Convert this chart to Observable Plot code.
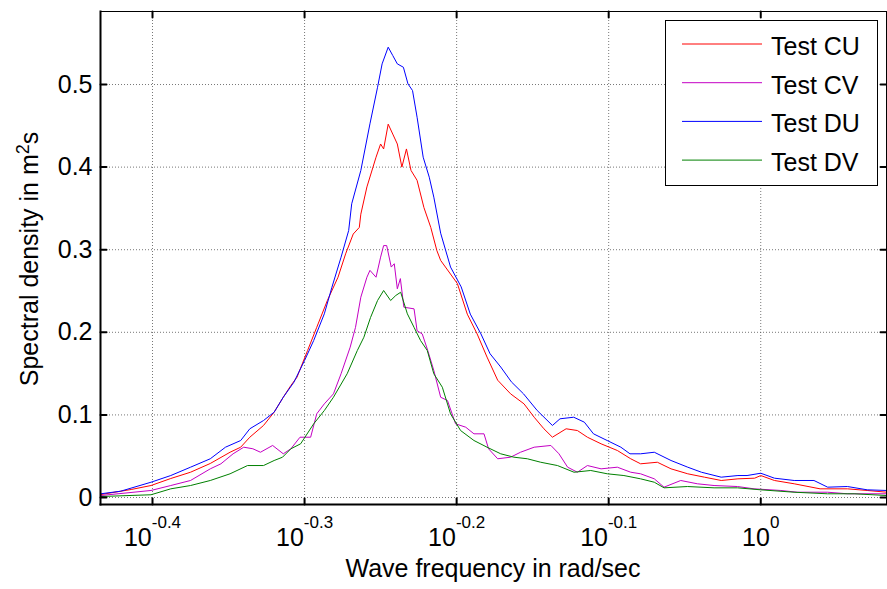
<!DOCTYPE html>
<html><head><meta charset="utf-8">
<script src="https://cdn.jsdelivr.net/npm/d3@7"></script>
<script src="https://cdn.jsdelivr.net/npm/@observablehq/plot@0.6"></script>
<style>body{margin:0;background:#fff} #chart{position:relative;width:887px;height:589px}</style>
</head><body><div id="chart"></div>
<script>
// log10 of wave frequency (rad/sec) and spectral density (m^2 s) for each test
const cuExp = [-0.434,-0.414,-0.401,-0.388,-0.375,-0.362,-0.349,-0.342,-0.336,-0.327,-0.320,-0.314,-0.309,-0.305,-0.298,-0.292,-0.285,-0.278,-0.273,-0.268,-0.264,-0.263,-0.259,-0.253,-0.250,-0.248,-0.245,-0.242,-0.239,-0.236,-0.233,-0.230,-0.226,-0.2215,-0.217,-0.213,-0.2105,-0.1995,-0.193,-0.1865,-0.180,-0.173,-0.1645,-0.1557,-0.149,-0.1426,-0.137,-0.128,-0.1206,-0.114,-0.105,-0.0943,-0.0855,-0.079,-0.068,-0.059,-0.048,-0.037,-0.026,-0.015,-0.004,0.000,0.009,0.022,0.039,0.057,0.070,0.083];
const cuVal = [0.0036,0.0097,0.0145,0.0230,0.0306,0.0412,0.0548,0.0609,0.0730,0.0872,0.1033,0.1214,0.1356,0.1456,0.178,0.206,0.2385,0.2667,0.295,0.319,0.327,0.343,0.376,0.412,0.428,0.422,0.452,0.440,0.428,0.400,0.422,0.396,0.384,0.351,0.327,0.299,0.287,0.259,0.222,0.198,0.170,0.142,0.1255,0.1134,0.0972,0.0832,0.0730,0.0832,0.0811,0.0730,0.0650,0.0569,0.0469,0.0408,0.0427,0.0347,0.0287,0.0246,0.0206,0.0226,0.0234,0.0266,0.0206,0.0166,0.0105,0.0105,0.0085,0.0064];

const cvExp = [-0.434,-0.401,-0.388,-0.375,-0.362,-0.355,-0.347,-0.340,-0.334,-0.329,-0.321,-0.314,-0.309,-0.303,-0.296,-0.292,-0.287,-0.281,-0.276,-0.270,-0.2665,-0.263,-0.259,-0.257,-0.253,-0.250,-0.248,-0.246,-0.243,-0.241,-0.239,-0.237,-0.2347,-0.228,-0.226,-0.2226,-0.219,-0.215,-0.2105,-0.206,-0.2007,-0.194,-0.1886,-0.182,-0.179,-0.173,-0.1645,-0.158,-0.149,-0.138,-0.1327,-0.127,-0.1206,-0.114,-0.105,-0.0943,-0.0855,-0.079,-0.070,-0.0636,-0.0526,-0.0417,-0.0307,-0.0153,-0.0044,0.0132,0.024,0.0439,0.057,0.083];
const cvVal = [0.0024,0.0085,0.0145,0.0206,0.0347,0.0408,0.0529,0.0609,0.0590,0.0548,0.0630,0.0529,0.0590,0.0730,0.0730,0.1013,0.1134,0.1255,0.1498,0.182,0.206,0.2425,0.2667,0.275,0.2667,0.291,0.305,0.305,0.279,0.283,0.2527,0.265,0.2304,0.2284,0.202,0.198,0.178,0.1538,0.1214,0.1174,0.0892,0.0851,0.0771,0.0771,0.0590,0.0469,0.0488,0.0548,0.0609,0.0630,0.0529,0.0367,0.0306,0.0387,0.0347,0.0367,0.0306,0.0287,0.0226,0.0125,0.0206,0.0166,0.0145,0.0133,0.0105,0.0085,0.0064,0.0064,0.0045,0.0045];

const duExp = [-0.434,-0.421,-0.401,-0.388,-0.375,-0.362,-0.352,-0.342,-0.336,-0.327,-0.320,-0.314,-0.307,-0.300,-0.294,-0.287,-0.282,-0.276,-0.271,-0.269,-0.263,-0.257,-0.252,-0.249,-0.245,-0.242,-0.239,-0.235,-0.232,-0.229,-0.226,-0.222,-0.218,-0.215,-0.2105,-0.204,-0.197,-0.191,-0.184,-0.178,-0.171,-0.164,-0.156,-0.147,-0.137,-0.132,-0.123,-0.116,-0.110,-0.101,-0.092,-0.086,-0.079,-0.070,-0.059,-0.048,-0.039,-0.026,-0.015,-0.009,0.000,0.009,0.022,0.035,0.044,0.057,0.070,0.083];
const duVal = [0.0045,0.0076,0.0185,0.0266,0.0367,0.0469,0.0609,0.0690,0.0832,0.0932,0.1033,0.1214,0.1396,0.1659,0.1901,0.2224,0.2546,0.2909,0.3232,0.3556,0.3959,0.4524,0.4967,0.5250,0.5452,0.5351,0.5250,0.5209,0.5008,0.4927,0.4604,0.4120,0.3878,0.3636,0.320,0.279,0.255,0.222,0.198,0.174,0.158,0.140,0.1255,0.1053,0.0872,0.0953,0.0972,0.0912,0.0771,0.0690,0.0609,0.0529,0.0529,0.0548,0.0448,0.0367,0.0306,0.0246,0.0266,0.0266,0.0294,0.0234,0.0206,0.0206,0.0125,0.0133,0.0093,0.0085];

const dvExp = [-0.434,-0.401,-0.388,-0.375,-0.362,-0.349,-0.3375,-0.327,-0.320,-0.3145,-0.309,-0.3026,-0.294,-0.287,-0.281,-0.272,-0.2653,-0.261,-0.2566,-0.252,-0.248,-0.2434,-0.240,-0.2368,-0.2324,-0.228,-0.2237,-0.2193,-0.215,-0.2094,-0.204,-0.1974,-0.1886,-0.180,-0.171,-0.1623,-0.1535,-0.1447,-0.1337,-0.1228,-0.1118,-0.1009,-0.090,-0.079,-0.070,-0.0636,-0.0482,-0.0307,-0.0153,0,0.0219,0.0439,0.0614,0.083];
const dvVal = [0.0012,0.0033,0.0105,0.0145,0.0206,0.0287,0.0387,0.0387,0.0448,0.0488,0.0590,0.0650,0.0892,0.1053,0.1214,0.1498,0.178,0.194,0.218,0.2385,0.2506,0.2385,0.2446,0.2485,0.2224,0.206,0.190,0.178,0.1498,0.1335,0.1013,0.0811,0.0690,0.0609,0.0529,0.0488,0.0469,0.0427,0.0387,0.0306,0.0327,0.0287,0.0266,0.0226,0.0185,0.0117,0.0133,0.0117,0.0117,0.0093,0.0064,0.0045,0.0045,0.0024];

const seriesNames = ["Test CU", "Test CV", "Test DU", "Test DV"];
const seriesColors = ["#ff0000", "#c400c4", "#0000ff", "#008000"];
const xTickExps = [-0.4, -0.3, -0.2, -0.1, 0];
const yTicks = [0, 0.1, 0.2, 0.3, 0.4, 0.5];
const xDomainExp = [-0.4342, 0.0827];
const yDomain = [-0.00847, 0.5884];

const rows = [];
[[cuExp, cuVal, "Test CU"], [cvExp, cvVal, "Test CV"], [duExp, duVal, "Test DU"], [dvExp, dvVal, "Test DV"]]
  .forEach(([ex, va, name]) => {
    const n = Math.min(ex.length, va.length);
    for (let i = 0; i < n; i++) rows.push({series: name, freq: Math.pow(10, ex[i]), density: va[i]});
  });

const xTicks = xTickExps.map(e => Math.pow(10, e));
const expOf = v => Math.round(Math.log10(v) * 10) / 10;

const font = "'Liberation Sans', Arial, sans-serif";
const gridStyle = {stroke: "#555", strokeOpacity: 0.8, strokeDasharray: "1,2", strokeWidth: 1};
// a plain line segment used for inward tick marks
const tickShape = {draw(context, l) { context.moveTo(0, 0); context.lineTo(0, -l); }};
const tickStyle = {shape: tickShape, length: 6, anchor: "start", stroke: "#000", strokeWidth: 2};

const plot = Plot.plot({
  width: 887, height: 589,
  marginLeft: 100, marginTop: 11, marginRight: 1, marginBottom: 85,
  style: {fontFamily: font, fontSize: "25px", color: "#000", background: "#fff", overflow: "visible"},
  x: {type: "log", domain: xDomainExp.map(e => Math.pow(10, e))},
  y: {domain: yDomain},
  color: {domain: seriesNames, range: seriesColors},
  marks: [
    Plot.gridX({ticks: xTicks, ...gridStyle}),
    Plot.gridY({ticks: yTicks, ...gridStyle}),
    Plot.line(rows, {x: "freq", y: "density", z: "series", stroke: "series", strokeWidth: 1}),
    Plot.axisX({ticks: xTicks, anchor: "bottom", tickSize: 0, tickPadding: 24, label: null,
      tickFormat: v => "10^" + expOf(v)}),
    Plot.axisY({ticks: yTicks, anchor: "left", tickSize: 0, tickPadding: 8, label: null,
      tickFormat: v => v === 0 ? "0" : String(v)}),
    Plot.vector(xTicks, {x: d => d, frameAnchor: "bottom", rotate: 0, ...tickStyle}),
    Plot.vector(xTicks, {x: d => d, frameAnchor: "top", rotate: 180, ...tickStyle}),
    Plot.vector(yTicks, {y: d => d, frameAnchor: "left", rotate: 90, ...tickStyle}),
    Plot.vector(yTicks, {y: d => d, frameAnchor: "right", rotate: -90, ...tickStyle}),
    Plot.frame({stroke: "#000", strokeWidth: 1}),
    Plot.frame({anchor: "left", stroke: "#000", strokeWidth: 2}),
    Plot.frame({anchor: "bottom", stroke: "#000", strokeWidth: 2})
  ]
});

document.getElementById("chart").appendChild(plot);
const svg = d3.select(plot);

// superscript exponents on the x tick labels
svg.selectAll('g[aria-label="x-axis tick label"] text').each(function () {
  const t = this.textContent;
  if (!t.startsWith("10^")) return;
  const ex = t.slice(3);
  const el = d3.select(this);
  el.text("");
  el.append("tspan").text("10");
  el.append("tspan").attr("dy", "-18").attr("font-size", "17px").text(ex);
});

// axis titles
svg.append("text")
  .attr("x", 493).attr("y", 577).attr("text-anchor", "middle")
  .attr("font-family", font).attr("font-size", "25px").attr("fill", "#000")
  .text("Wave frequency in rad/sec");
const yt = svg.append("text")
  .attr("transform", "translate(38,259) rotate(-90)").attr("text-anchor", "middle")
  .attr("font-family", font).attr("font-size", "25px").attr("fill", "#000");
yt.append("tspan").text("Spectral density in m");
yt.append("tspan").attr("dy", "-9").attr("font-size", "18px").text("2");
yt.append("tspan").attr("dy", "9").text("s");

// legend
const lg = svg.append("g").attr("font-family", font).attr("font-size", "25px").attr("text-anchor", "start");
lg.append("rect").attr("x", 665.5).attr("y", 20.5).attr("width", 212).attr("height", 165)
  .attr("fill", "#fff").attr("stroke", "#000").attr("stroke-width", 1);
seriesNames.forEach((name, i) => {
  const cy = 44 + i * 38.7;
  lg.append("line").attr("x1", 682).attr("x2", 762).attr("y1", cy).attr("y2", cy)
    .attr("stroke", seriesColors[i]).attr("stroke-width", 1);
  lg.append("text").attr("x", 771).attr("y", cy + 11).attr("text-anchor", "start").attr("fill", "#000").text(name);
});
</script>
</body></html>
